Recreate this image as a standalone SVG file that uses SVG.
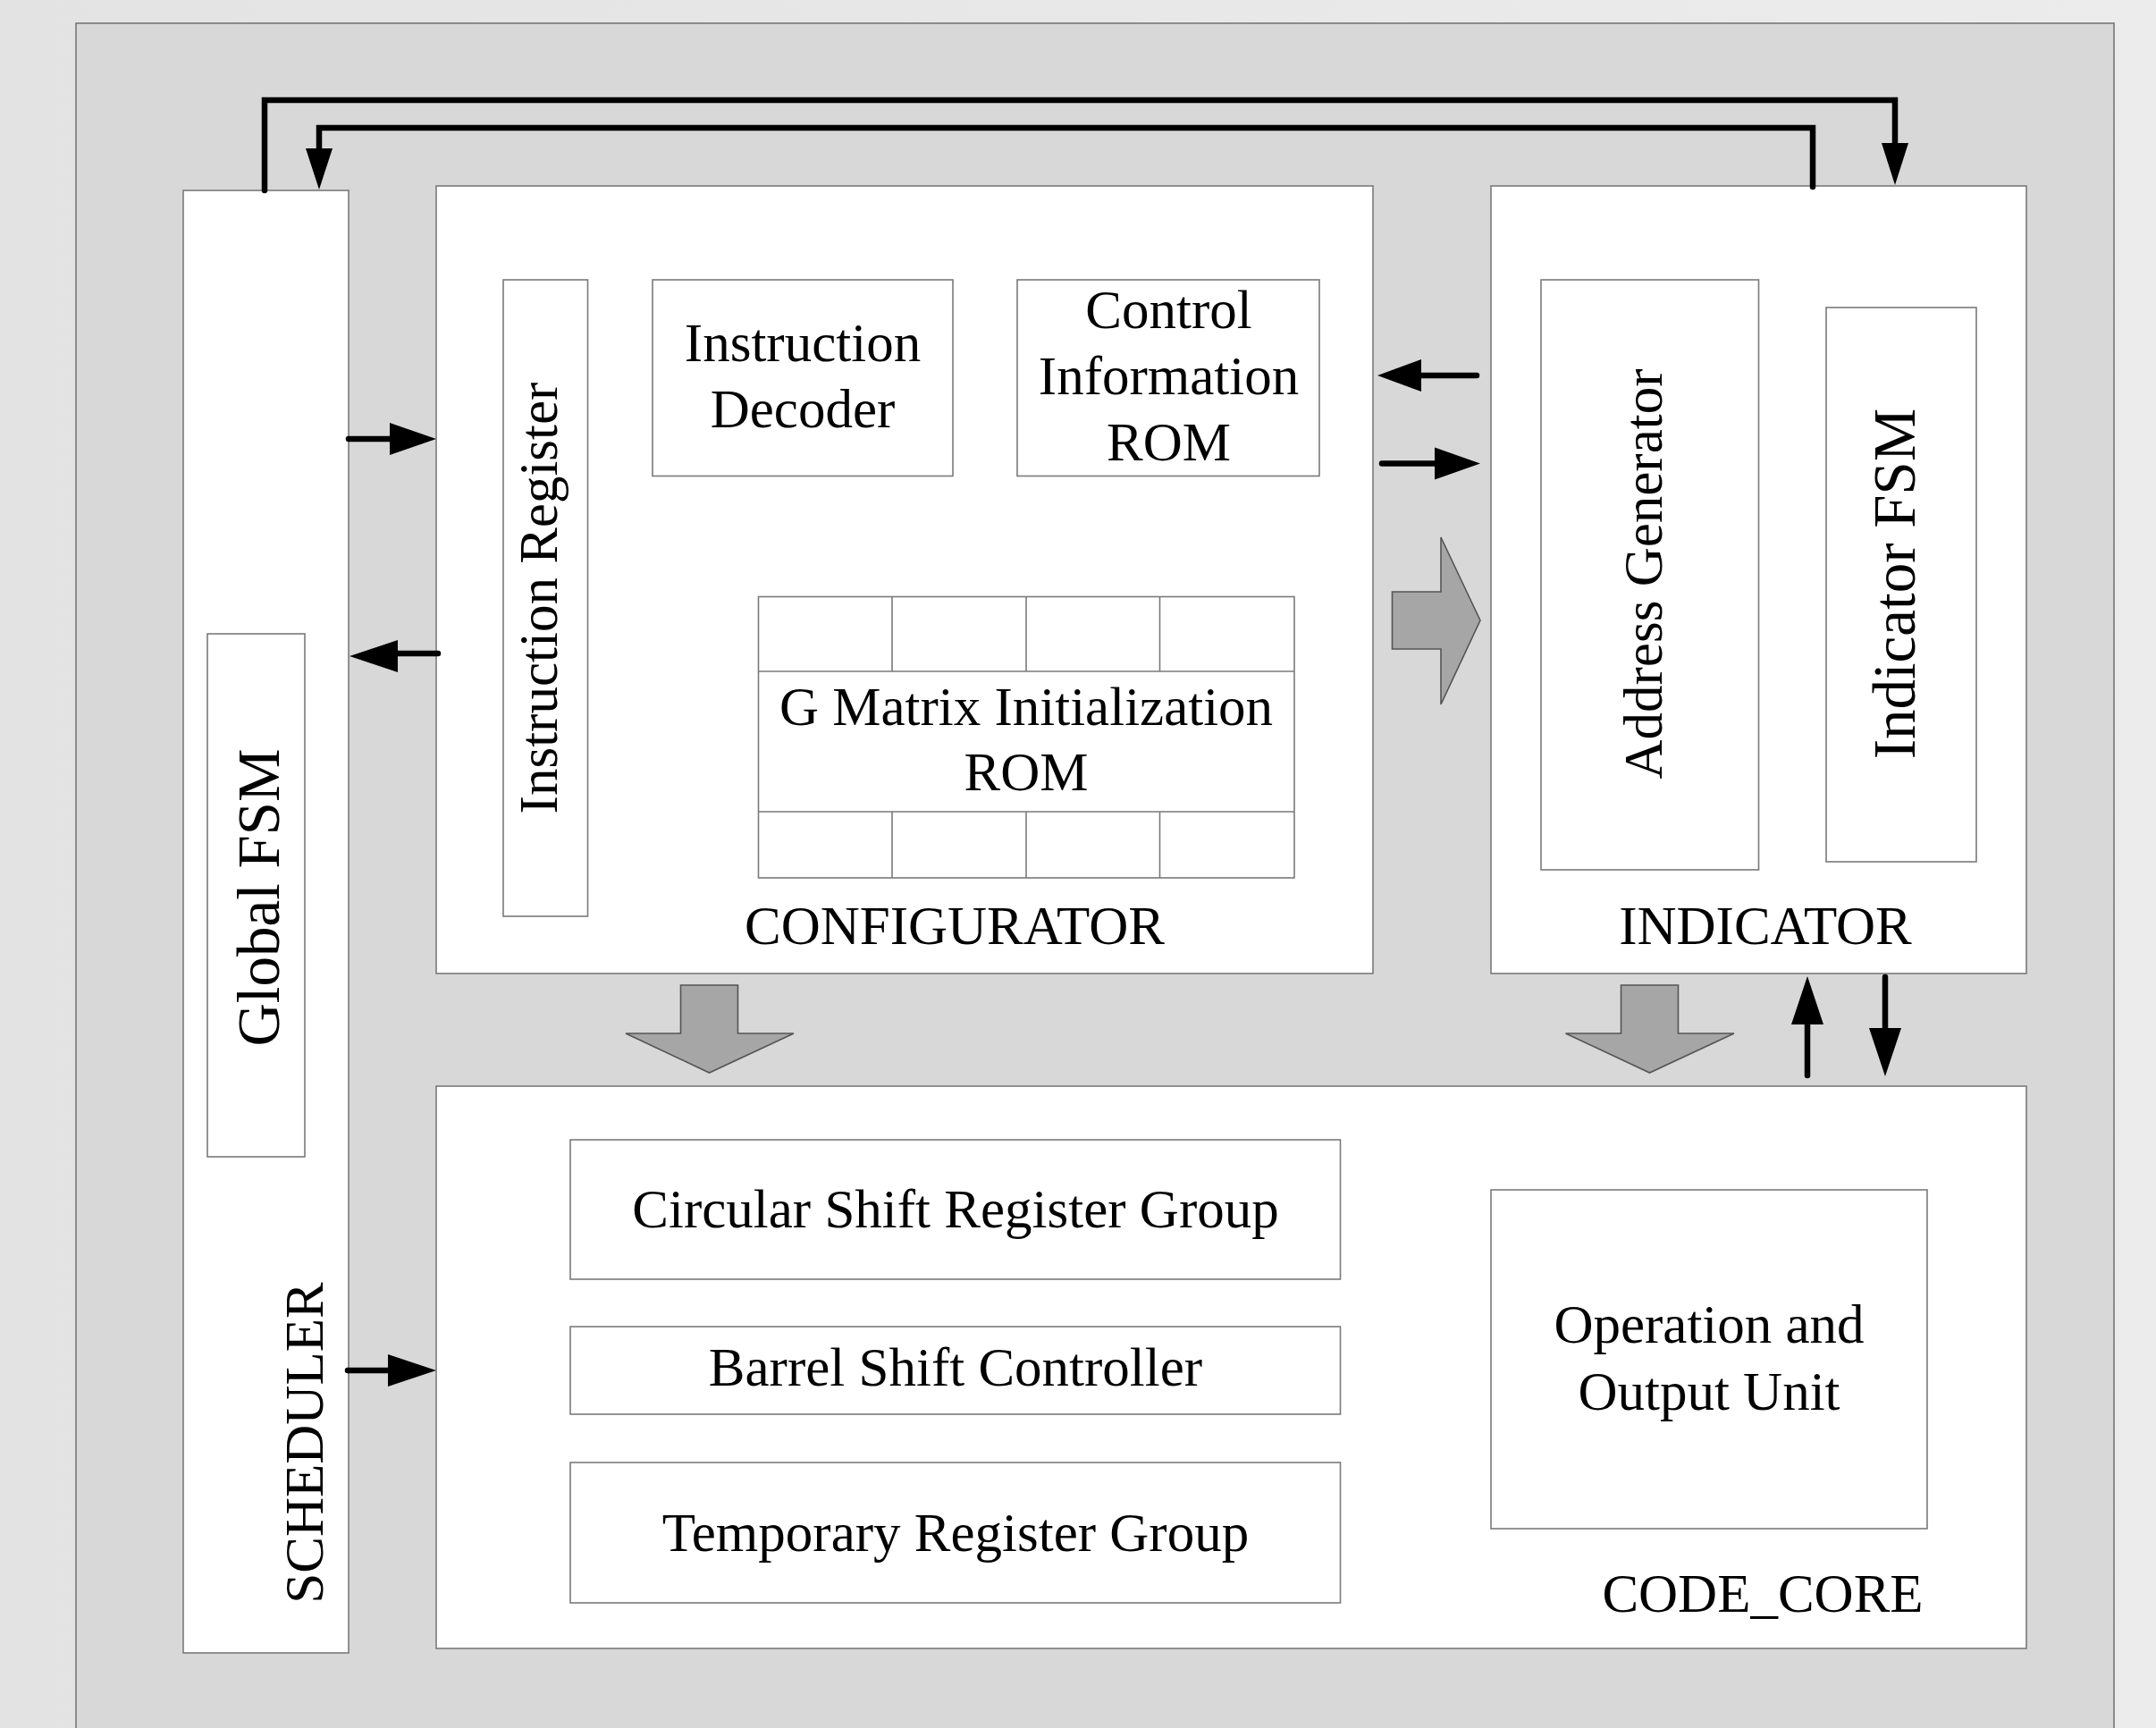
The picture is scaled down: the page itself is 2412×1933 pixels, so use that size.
<svg xmlns="http://www.w3.org/2000/svg" width="2412" height="1933" viewBox="0 0 2412 1933">
<defs>
<style>
.box{fill:#ffffff;stroke:#7a7a7a;stroke-width:1.6}
.t{font-family:"Liberation Serif","Times New Roman",serif;font-size:61px;fill:#000;text-anchor:middle}
.big{font-size:67px}
.wire{fill:none;stroke:#000;stroke-width:6.5;stroke-linecap:round;stroke-linejoin:miter}
.head{fill:#000;stroke:none}
.fat{fill:#a6a6a6;stroke:#555;stroke-width:1.6;stroke-linejoin:miter}
</style>
<linearGradient id="bg" x1="0" y1="0" x2="1" y2="0">
<stop offset="0" stop-color="#e3e3e3"/>
<stop offset="1" stop-color="#ececec"/>
</linearGradient>
</defs>
<rect x="0" y="0" width="2412" height="1933" fill="url(#bg)"/>
<rect id="frame" x="85" y="26" width="2280" height="1930" fill="#d8d8d8" stroke="#777" stroke-width="1.6"/>

<g id="scheduler">
<rect class="box" x="205" y="213" width="185" height="1636"/>
<text class="t" transform="translate(361,1614) rotate(-90)">SCHEDULER</text>
</g>
<g id="global-fsm">
<rect class="box" x="232" y="709" width="109" height="585"/>
<text class="t big" transform="translate(312,1004) rotate(-90)">Global FSM</text>
</g>

<g id="configurator">
<rect class="box" x="488" y="208" width="1048" height="881"/>
<text class="t" x="1068" y="1056">CONFIGURATOR</text>
</g>
<g id="instruction-register">
<rect class="box" x="563" y="313" width="94.5" height="712"/>
<text class="t" transform="translate(623,669) rotate(-90)">Instruction Register</text>
</g>
<g id="instruction-decoder">
<rect class="box" x="730" y="313" width="336" height="219.5"/>
<text class="t" x="898" y="404">Instruction</text>
<text class="t" x="898" y="478">Decoder</text>
</g>
<g id="control-info-rom">
<rect class="box" x="1138" y="313" width="338" height="219.5"/>
<text class="t" x="1307.5" y="367">Control</text>
<text class="t" x="1307.5" y="441">Information</text>
<text class="t" x="1307.5" y="515">ROM</text>
</g>
<g id="g-matrix-rom">
<rect class="box" x="848.5" y="667.5" width="599.5" height="314.5"/>
<path d="M848.5 751H1448M848.5 908H1448M998 667.5V751M1148 667.5V751M1297.5 667.5V751M998 908V982M1148 908V982M1297.5 908V982" stroke="#7a7a7a" stroke-width="1.6" fill="none"/>
<text class="t" x="1148" y="811">G Matrix Initialization</text>
<text class="t" x="1148" y="884">ROM</text>
</g>

<g id="indicator">
<rect class="box" x="1668" y="208" width="599" height="881"/>
<text class="t" x="1975" y="1056">INDICATOR</text>
</g>
<g id="address-generator">
<rect class="box" x="1724" y="313" width="243.5" height="660"/>
<text class="t" transform="translate(1859,642) rotate(-90)">Address Generator</text>
</g>
<g id="indicator-fsm">
<rect class="box" x="2043" y="344" width="168" height="620"/>
<text class="t big" transform="translate(2142,653) rotate(-90)">Indicator FSM</text>
</g>

<g id="code-core">
<rect class="box" x="488" y="1215" width="1779" height="629"/>
<text class="t" x="1972" y="1802.5">CODE_CORE</text>
</g>
<g id="circular-shift">
<rect class="box" x="638" y="1275" width="861.5" height="156"/>
<text class="t" x="1069" y="1373">Circular Shift Register Group</text>
</g>
<g id="barrel-shift">
<rect class="box" x="638" y="1484" width="861.5" height="98"/>
<text class="t" x="1069" y="1550">Barrel Shift Controller</text>
</g>
<g id="temporary-register">
<rect class="box" x="638" y="1636" width="861.5" height="157"/>
<text class="t" x="1069" y="1735">Temporary Register Group</text>
</g>
<g id="operation-output">
<rect class="box" x="1668" y="1331" width="488" height="379"/>
<text class="t" x="1912" y="1502">Operation and</text>
<text class="t" x="1912" y="1576.5">Output Unit</text>
</g>

<g id="connectors">
<path class="wire" d="M296 213V112H2120V165"/>
<polygon class="head" points="2105,160 2135,160 2120,207"/>
<path class="wire" d="M2028 209V143H357V170"/>
<polygon class="head" points="342,166 372,166 357,212"/>
<path class="wire" d="M390 491H440"/>
<polygon class="head" points="436,473 488,491 436,509"/>
<path class="wire" d="M490 731H440"/>
<polygon class="head" points="445,716 391,734 445,752"/>
<path class="wire" d="M1652 420H1585"/>
<polygon class="head" points="1590,402 1541,420 1590,438"/>
<path class="wire" d="M1546 518.5H1610"/>
<polygon class="head" points="1605,500.5 1656,518.5 1605,536.5"/>
<path class="wire" d="M389 1533H440"/>
<polygon class="head" points="434,1515 488,1533 434,1551"/>
<path class="wire" d="M2022 1203V1140"/>
<polygon class="head" points="2004,1146 2022,1092 2040,1146"/>
<path class="wire" d="M2109 1093V1155"/>
<polygon class="head" points="2091,1150 2109,1204 2127,1150"/>
<polygon class="fat" points="1557.5,662 1612,662 1612,601 1656,694 1612,788 1612,726 1557.5,726"/>
<polygon class="fat" points="761.5,1102 825.5,1102 825.5,1156 888,1156 793.5,1200 700,1156 761.5,1156"/>
<polygon class="fat" points="1813.5,1102 1877.5,1102 1877.5,1156 1940,1156 1845.5,1200 1751.5,1156 1813.5,1156"/>
</g>
</svg>
